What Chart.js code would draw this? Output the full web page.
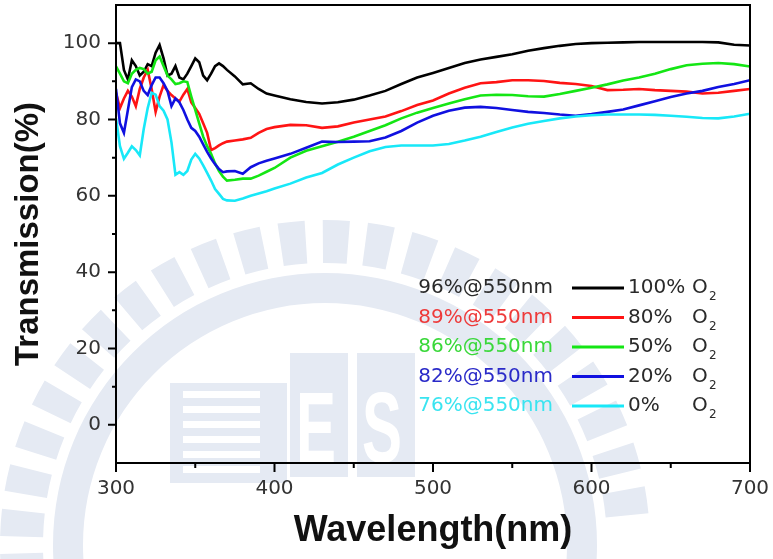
<!DOCTYPE html>
<html>
<head>
<meta charset="utf-8">
<script src="https://cdn.jsdelivr.net/npm/chart.js@4.4.0/dist/chart.umd.min.js"></script>
<style>
  html, body { margin: 0; padding: 0; background: #fff; }
</style>
</head>
<body>
<canvas id="transChart" width="773" height="559"></canvas>
<script>
// wavelength grid (nm)
const wavelength = [300, 302.5, 305, 307.5, 310, 312.5, 315, 317.5, 320, 322.5, 325, 327.5, 330, 332.5, 335, 337.5,
  340, 342.5, 345, 347.5, 350, 352.5, 355, 357.5, 360, 362.5, 365, 367.5, 370, 375, 380, 385, 390, 395, 400,
  410, 420, 430, 440, 450, 460, 470, 480, 490, 500, 510, 520, 530, 540, 550, 560, 570, 580, 590, 600,
  610, 620, 630, 640, 650, 660, 670, 680, 690, 700];

// transmission (%) per O2 ratio
const o2_100 = [100, 100, 93, 90.5, 95.5, 94, 91.5, 92.5, 94.5, 94, 97.5, 99.5, 96, 91.5, 92, 94,
  91, 90.5, 92, 94, 96, 95, 91.5, 90.3, 92, 94, 94.7, 94, 93, 91.3, 89.2, 89.5, 88, 86.8, 86.3,
  85.3, 84.6, 84.2, 84.5, 85.2, 86.3, 87.5, 89.3, 91, 92.2, 93.5, 94.8, 95.7, 96.4, 97.1, 98, 98.7, 99.3, 99.8, 100,
  100.1, 100.2, 100.3, 100.3, 100.3, 100.3, 100.3, 100.2, 99.6, 99.4];
const o2_80 = [87, 83, 85.5, 87.5, 86, 83.5, 88, 91, 93, 88, 82, 86, 89, 87.5, 86.4, 85.5,
  84.7, 86.5, 88, 84.5, 83, 81.5, 79, 76.5, 72, 72.5, 73.2, 73.8, 74.2, 74.5, 74.8, 75.2, 76.5, 77.5, 78,
  78.6, 78.5, 77.8, 78.2, 79.2, 80, 80.8, 82.2, 83.8, 85, 86.8, 88.3, 89.5, 89.8, 90.3, 90.3, 90.1, 89.6, 89.3, 88.8,
  87.7, 87.8, 88, 87.7, 87.5, 87.3, 86.8, 87, 87.5, 88];
const o2_50 = [93.9, 92, 90, 89.5, 92, 93, 93.5, 93.2, 92, 92.5, 95.5, 96.5, 94, 91.5, 90.5, 89.3,
  89.5, 90, 89.8, 86, 82.5, 79, 75.5, 73, 71, 68.5, 66.5, 65, 64, 64.2, 64.5, 64.5, 65.3, 66.3, 67.3,
  70, 71.8, 73, 74.2, 75.5, 77, 78.5, 80.3, 81.8, 83, 84.2, 85.3, 86.3, 86.5, 86.4, 86.1, 86, 86.7, 87.5, 88.3,
  89.2, 90.2, 91, 92, 93.2, 94.2, 94.6, 94.8, 94.5, 93.9];
const o2_20 = [88, 79, 76.5, 82.5, 88.5, 90.5, 90, 87.5, 86.4, 89, 91, 91, 89.5, 87.5, 83.5, 85.5,
  84.5, 82.5, 80, 77.8, 77, 75.5, 73.5, 71.5, 69.8, 68.3, 67, 66.2, 66.4, 66.5, 65.8, 67.5, 68.5, 69.2, 69.8,
  71, 72.6, 74.2, 74.1, 74.2, 74.3, 75.3, 77, 79.2, 81, 82.3, 83.1, 83.3, 83, 82.5, 82, 81.7, 81.3, 81, 81.4,
  82, 82.6, 83.7, 84.8, 85.9, 86.8, 87.5, 88.5, 89.3, 90.3];
const o2_0 = [80.3, 73, 69.7, 71.3, 73, 72, 70.6, 77.5, 83, 87, 86.5, 83.5, 82.3, 80, 74, 65.5,
  66.2, 65.5, 66.5, 69.5, 71, 69.8, 68, 66, 64, 61.8, 60.5, 59.2, 58.8, 58.7, 59.3, 60, 60.6, 61.2, 61.9,
  63.2, 64.8, 66, 68.2, 70, 71.7, 72.8, 73.2, 73.2, 73.2, 73.6, 74.5, 75.5, 76.7, 77.9, 78.9, 79.6, 80.3, 80.8, 81.1,
  81.3, 81.3, 81.3, 81.2, 81, 80.7, 80.4, 80.3, 80.8, 81.5];

const seriesValues = [o2_100, o2_80, o2_50, o2_20, o2_0];
const o2Labels = ["100%", "80%", "50%", "20%", "0%"];
const at550Labels = ["96%@550nm", "89%@550nm", "86%@550nm", "82%@550nm", "76%@550nm"];
const lineColors = ["#000000", "#ff1414", "#14e614", "#1010e0", "#18e8f8"];
const textColors = ["#2a2a2a", "#ee3a3a", "#3ad83a", "#2a2ac8", "#3ae4f0"];

const tickFont = { family: "DejaVu Sans", size: 20 };
const tickColor = "#333333";

// faint background emblem (watermark)
const watermark = {
  id: "watermark",
  beforeDraw(chart) {
    const c = chart.ctx;
    const cx = 325, cy = 545;
    c.save();
    c.fillStyle = "#e5eaf3";
    // radial stripes
    for (let a = 176; a <= 352; a += 8) {
      const a0 = (a - 2.4) * Math.PI / 180, a1 = (a + 2.4) * Math.PI / 180;
      c.beginPath();
      c.arc(cx, cy, 325, a0, a1);
      c.arc(cx, cy, 282, a1, a0, true);
      c.closePath();
      c.fill();
    }
    // band inside the stripes
    c.beginPath();
    c.arc(cx, cy, 272, 0, 2 * Math.PI);
    c.arc(cx, cy, 242, 2 * Math.PI, 0, true);
    c.closePath();
    c.fill();
    // building with horizontal bars
    c.fillRect(170, 383, 117, 100);
    c.fillStyle = "#ffffff";
    for (let i = 0; i < 6; i++) c.fillRect(183, 391 + i * 15, 77, 7);
    // E and S blocks
    c.fillStyle = "#e5eaf3";
    c.fillRect(290, 353, 58, 124);
    c.fillRect(357, 353, 58, 124);
    c.fillStyle = "#ffffff";
    c.font = "bold 100px 'Liberation Sans'";
    c.save();
    c.translate(296, 462);
    c.scale(0.6, 1);
    c.fillText("E", 0, 0);
    c.restore();
    c.save();
    c.translate(362, 462);
    c.scale(0.6, 1);
    c.fillText("S", 0, 0);
    c.restore();
    c.restore();
  }
};

// tick marks (major longer, minor shorter, outward) and the box frame
const frameTicks = {
  id: "frameTicks",
  afterDraw(chart) {
    const c = chart.ctx;
    const area = chart.chartArea;
    const xs = chart.scales.x, ys = chart.scales.y;
    c.save();
    c.strokeStyle = "#000";
    c.lineWidth = 2;
    c.beginPath();
    xs.ticks.forEach(t => {
      const px = xs.getPixelForValue(t.value);
      const len = t.value % 100 === 0 ? 9 : 5;
      c.moveTo(px, area.bottom);
      c.lineTo(px, area.bottom + len);
    });
    ys.ticks.forEach(t => {
      if (t.value <= ys.min || t.value >= ys.max) return;
      const py = ys.getPixelForValue(t.value);
      const len = t.value % 20 === 0 ? 8 : 4;
      c.moveTo(area.left, py);
      c.lineTo(area.left - len, py);
    });
    c.stroke();
    c.strokeRect(area.left, area.top, area.right - area.left, area.bottom - area.top);
    c.restore();
  }
};

// in-plot legend: coloured value text, line sample, O2 ratio with subscript
const insideLegend = {
  id: "insideLegend",
  afterDatasetsDraw(chart) {
    const c = chart.ctx;
    c.save();
    c.textBaseline = "middle";
    seriesValues.forEach((_, i) => {
      const y = 288 + i * 29.5;
      c.font = "20px 'DejaVu Sans'";
      c.textAlign = "right";
      c.fillStyle = textColors[i];
      c.fillText(at550Labels[i], 553, y);
      c.strokeStyle = lineColors[i];
      c.lineWidth = 3;
      c.beginPath();
      c.moveTo(572, y);
      c.lineTo(624, y);
      c.stroke();
      c.textAlign = "left";
      c.fillStyle = "#2a2a2a";
      c.fillText(o2Labels[i], 628, y);
      c.fillText("O", 692, y);
      c.font = "12px 'DejaVu Sans'";
      c.fillText("2", 709, y + 9);
    });
    c.restore();
  }
};

const ctx = document.getElementById("transChart").getContext("2d");
const chart = new Chart(ctx, {
  type: "line",
  data: {
    datasets: seriesValues.map((vals, i) => ({
      label: o2Labels[i] + " O2",
      data: wavelength.map((w, k) => ({ x: w, y: vals[k] })),
      borderColor: lineColors[i],
      borderWidth: 2.6,
      pointRadius: 0,
      tension: 0,
      fill: false,
      order: 4 - i,
    })),
  },
  options: {
    responsive: false,
    animation: false,
    layout: { padding: { left: 0, right: 23, top: 5, bottom: 0 } },
    plugins: { legend: { display: false }, tooltip: { enabled: false } },
    scales: {
      x: {
        type: "linear",
        min: 300,
        max: 700,
        afterFit: (s) => { s.height = 96; s.paddingLeft = 0; s.paddingRight = 0; },
        grid: { drawOnChartArea: false, drawTicks: false },
        border: { color: "#000", width: 2 },
        ticks: {
          stepSize: 50,
          padding: 14,
          font: tickFont,
          color: tickColor,
          maxRotation: 0,
          autoSkip: false,
          callback: (v) => (v % 100 === 0 ? v : ""),
        },
        title: {
          display: true,
          text: "Wavelength(nm)",
          color: "#111",
          font: { family: "Liberation Sans", size: 36, weight: "bold" },
          padding: { top: 0, bottom: 6 },
        },
      },
      y: {
        min: -10,
        max: 110,
        afterFit: (s) => { s.width = 116; s.paddingTop = 0; s.paddingBottom = 0; },
        grid: { drawOnChartArea: false, drawTicks: false },
        border: { color: "#000", width: 2 },
        ticks: {
          stepSize: 10,
          padding: 15,
          font: tickFont,
          color: tickColor,
          autoSkip: false,
          callback: (v) => (v % 20 === 0 && v >= 0 && v <= 100 ? v : ""),
        },
        title: {
          display: true,
          text: "Transmission(%)",
          color: "#111",
          font: { family: "Liberation Sans", size: 33, weight: "bold" },
          padding: { top: 9, bottom: 0 },
        },
      },
    },
  },
  plugins: [watermark, frameTicks, insideLegend],
});
</script>
</body>
</html>
